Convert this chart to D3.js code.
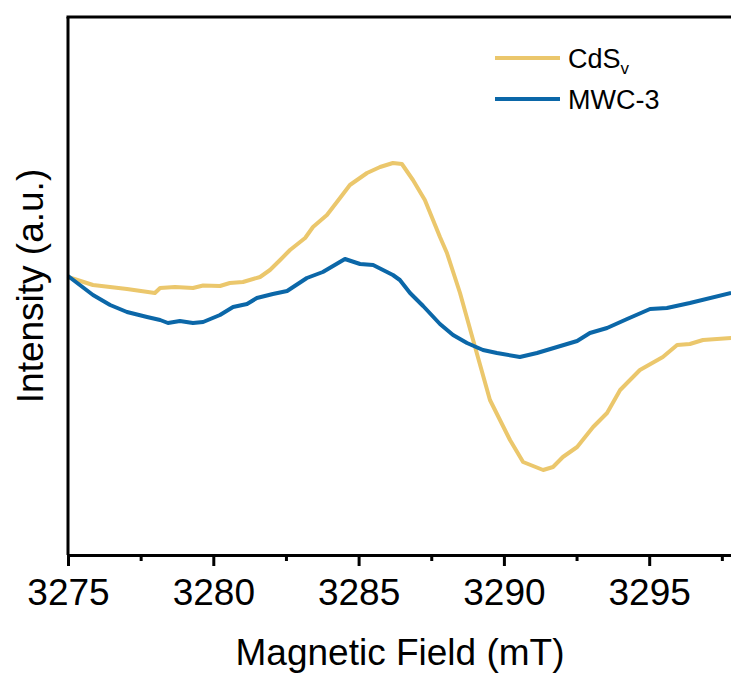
<!DOCTYPE html>
<html>
<head>
<meta charset="utf-8">
<script src="https://cdn.jsdelivr.net/npm/d3@7"></script>
<style>
	html, body { margin: 0; padding: 0; background: #fff; overflow: hidden; }
	svg { display: block; font-family: "Liberation Sans", Arial, sans-serif; }
</style>
</head>
<body>
<script>
// EPR spectra, intensity in arbitrary units
const fieldCdS = [3275.00, 3275.86, 3277.03, 3277.99, 3278.17, 3278.68, 3279.30, 3279.65, 3280.23, 3280.57,
	3281.02, 3281.61, 3281.95, 3282.30, 3282.64, 3283.16, 3283.43, 3283.91, 3284.36, 3284.70,
	3285.29, 3285.74, 3286.18, 3286.49, 3286.87, 3287.28, 3287.80, 3288.04, 3288.49, 3288.94,
	3289.52, 3290.21, 3290.66, 3291.35, 3291.69, 3292.03, 3292.52, 3293.07, 3293.55, 3294.00,
	3294.68, 3295.47, 3295.96, 3296.40, 3296.85, 3297.82];
const intensityCdS = [278, 270, 266, 262, 267, 268, 267, 269.5, 269, 272,
	273, 278, 285, 295, 305, 317, 328, 340, 357, 370,
	382, 388, 392, 391, 375, 355, 318, 302, 262, 215,
	155, 115, 93, 85, 88, 98, 108, 128, 142, 165,
	185, 198, 210, 211, 215, 217];

const fieldMWC = [3275.00, 3275.86, 3276.45, 3277.03, 3277.72, 3278.17, 3278.44, 3278.85, 3279.30, 3279.65,
	3280.23, 3280.68, 3281.16, 3281.50, 3282.05, 3282.54, 3283.22, 3283.77, 3284.53, 3285.05,
	3285.50, 3286.18, 3286.42, 3286.77, 3287.22, 3287.80, 3288.25, 3288.73, 3289.28, 3289.76,
	3290.55, 3291.14, 3291.83, 3292.52, 3292.96, 3293.55, 3294.24, 3295.03, 3295.61, 3296.40,
	3297.82];
const intensityMWC = [279, 260, 250, 243, 238, 235, 232, 234, 232, 233,
	240, 248, 251, 257, 261, 264, 277, 283, 296, 291,
	290, 280, 275, 262, 249, 231, 220, 212, 205, 202,
	198, 202, 208, 214, 222, 227, 236, 246, 247, 252,
	262];

const seriesNames = ["CdS", "MWC-3"];
const seriesColors = ["#ebc76c", "#0b67a8"];
const xTicks = [3275, 3280, 3285, 3290, 3295];

const width = 731, height = 675;
const margin = {top: 17, left: 68, bottom: 120};
const plotRight = 794; // frame continues past the window edge

const x = d3.scaleLinear()
	.domain([3275, 3300])
	.range([margin.left, margin.left + 29.06 * 25]);

const y = d3.scaleLinear()
	.domain([0, 538])
	.range([height - margin.bottom, margin.top]);

const svg = d3.select("body").append("svg")
	.attr("width", width)
	.attr("height", height);

const line = d3.line()
	.x(d => x(d[0]))
	.y(d => y(d[1]));

const series = [
	{name: seriesNames[0], color: seriesColors[0], values: d3.zip(fieldCdS, intensityCdS)},
	{name: seriesNames[1], color: seriesColors[1], values: d3.zip(fieldMWC, intensityMWC)}
];

svg.append("g")
	.selectAll("path")
	.data(series)
	.join("path")
		.attr("fill", "none")
		.attr("stroke", d => d.color)
		.attr("stroke-width", 4)
		.attr("stroke-linejoin", "round")
		.attr("d", d => line(d.values));

// frame: top and left
svg.append("line")
	.attr("x1", margin.left - 1.5).attr("x2", plotRight)
	.attr("y1", margin.top).attr("y2", margin.top)
	.attr("stroke", "#000").attr("stroke-width", 3);

svg.append("line")
	.attr("x1", margin.left).attr("x2", margin.left)
	.attr("y1", margin.top).attr("y2", y(0))
	.attr("stroke", "#000").attr("stroke-width", 3);

// minor ticks
svg.append("g")
	.attr("transform", `translate(0,${y(0)})`)
	.call(d3.axisBottom(x).tickValues(xTicks.map(t => t + 2.5)).tickSize(6).tickFormat(""))
	.call(g => g.select(".domain").remove())
	.call(g => g.selectAll("line").attr("stroke-width", 3));

svg.append("g")
	.attr("transform", `translate(0,${y(0)})`)
	.call(d3.axisBottom(x).tickValues(xTicks).tickSize(11).tickSizeOuter(0).tickFormat(d3.format("d")))
	.call(g => g.select(".domain").attr("stroke-width", 3))
	.call(g => g.selectAll("line").attr("stroke-width", 3))
	.call(g => g.selectAll("text")
		.attr("font-size", 37)
		.attr("font-family", "Liberation Sans, Arial, sans-serif")
		.attr("fill", "#000")
		.attr("dy", 0)
		.attr("y", 50));

svg.append("text")
	.attr("x", 400)
	.attr("y", 665)
	.attr("text-anchor", "middle")
	.attr("font-size", 37)
	.text("Magnetic Field (mT)");

svg.append("text")
	.attr("transform", `translate(43,${286}) rotate(-90)`)
	.attr("text-anchor", "middle")
	.attr("font-size", 37)
	.text("Intensity (a.u.)");

// legend
const legend = svg.append("g")
	.selectAll("g")
	.data(series)
	.join("g")
		.attr("transform", (d, i) => `translate(495,${58 + i * 41})`);

legend.append("line")
	.attr("x1", 0).attr("x2", 65)
	.attr("stroke", d => d.color)
	.attr("stroke-width", 4);

legend.append("text")
	.attr("x", 73)
	.attr("y", 10)
	.attr("font-size", 27)
	.text(d => d.name)
	.filter(d => d.name === "CdS")
	.append("tspan")
		.attr("dy", 6)
		.attr("font-size", 17)
		.text("v");
</script>
</body>
</html>
